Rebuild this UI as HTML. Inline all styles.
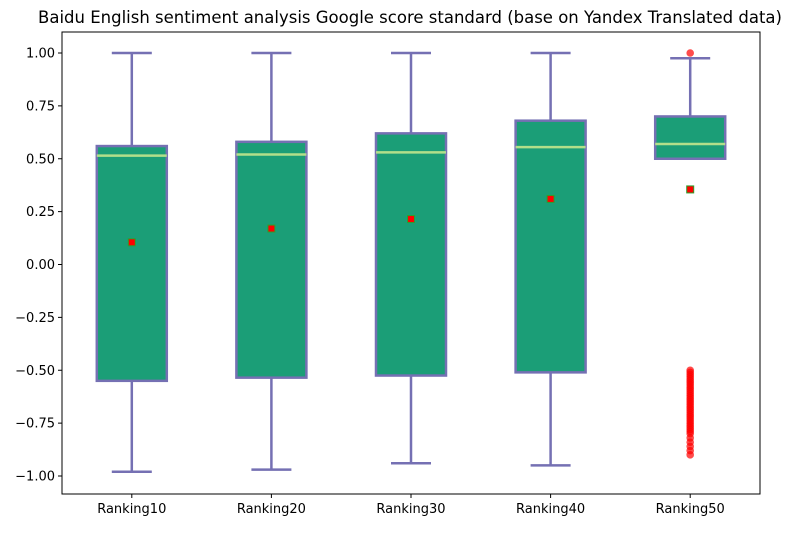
<!DOCTYPE html>
<html><head><meta charset="utf-8"><style>
body{margin:0;background:#fff;font-family:"Liberation Sans","DejaVu Sans",sans-serif}
svg text{font-family:"DejaVu Sans","Liberation Sans",sans-serif}
</style></head><body>
<svg id="c" width="797" height="528"></svg>
<script>
const categories=["Ranking10","Ranking20","Ranking30","Ranking40","Ranking50"];
const whiskerLow=[-0.98,-0.97,-0.94,-0.95,0.50];
const q1=[-0.55,-0.535,-0.525,-0.51,0.50];
const medians=[0.515,0.52,0.53,0.555,0.57];
const q3=[0.56,0.58,0.62,0.68,0.70];
const whiskerHigh=[1.0,1.0,1.0,1.0,0.975];
const means=[0.105,0.17,0.215,0.31,0.355];
const outliers50=[1.0,-0.50,-0.51,-0.52,-0.53,-0.54,-0.55,-0.56,-0.57,-0.58,-0.59,-0.60,-0.61,-0.62,-0.63,-0.64,-0.65,-0.66,-0.67,-0.68,-0.69,-0.70,-0.71,-0.72,-0.73,-0.74,-0.75,-0.76,-0.77,-0.78,-0.79,-0.80,-0.82,-0.84,-0.86,-0.88,-0.90];
const yTicks=[1.0,0.75,0.5,0.25,0,-0.25,-0.5,-0.75,-1.0];
const yTickLabels=["1.00","0.75","0.50","0.25","0.00","\u22120.25","\u22120.50","\u22120.75","\u22121.00"];

const L=62,R=760,T=32,B=494;
const x=i=>L+(i+0.5)*(R-L)/categories.length;
const y=v=>264.5-v*211.5;
const svg=document.getElementById('c');
const NS="http://www.w3.org/2000/svg";
function mk(tag,attrs,parent){const e=document.createElementNS(NS,tag);for(const k in attrs)e.setAttribute(k,attrs[k]);(parent||svg).appendChild(e);return e;}

let t=mk('text',{x:410,y:23,'text-anchor':'middle','font-size':16.5,fill:'#000'});
t.textContent="Baidu English sentiment analysis Google score standard (base on Yandex Translated data)";



const hw=35,cw=20,ec="#7570b3";
categories.forEach((c,i)=>{
  const g=mk('g',{});
  
  
  const cx=x(i);
  mk('line',{x1:cx,x2:cx,y1:y(q1[i]),y2:y(whiskerLow[i]),stroke:ec,'stroke-width':2.5},g);
  mk('line',{x1:cx,x2:cx,y1:y(q3[i]),y2:y(whiskerHigh[i]),stroke:ec,'stroke-width':2.5},g);
  mk('line',{x1:cx-cw,x2:cx+cw,y1:y(whiskerLow[i]),y2:y(whiskerLow[i]),stroke:ec,'stroke-width':2.5},g);
  mk('line',{x1:cx-cw,x2:cx+cw,y1:y(whiskerHigh[i]),y2:y(whiskerHigh[i]),stroke:ec,'stroke-width':2.5},g);
  mk('rect',{x:cx-hw,y:y(q3[i]),width:2*hw,height:y(q1[i])-y(q3[i]),fill:'#1b9e77',stroke:ec,'stroke-width':2.5},g);
  mk('line',{x1:cx-hw,x2:cx+hw,y1:y(medians[i]),y2:y(medians[i]),stroke:'#b2df8a','stroke-width':2.5},g);
  const m=mk('rect',{x:cx-3.5,y:y(means[i])-3.5,width:7,height:7,fill:'#f00',stroke:'#2ca02c','stroke-width':1},g);
  
  
});
outliers50.forEach(v=>{
  const o=mk('circle',{cx:x(4),cy:y(v),r:3.8,fill:'#f00','fill-opacity':0.7});
  
  
});

const ax=mk('rect',{x:L,y:T,width:R-L,height:B-T,fill:'none',stroke:'#000','stroke-width':1});


yTicks.forEach((v,i)=>{
  mk('line',{x1:L-4,x2:L,y1:y(v),y2:y(v),stroke:'#000'});
  const tt=mk('text',{x:L-7,y:y(v)+4.5,'text-anchor':'end','font-size':13,fill:'#000'});
  tt.textContent=yTickLabels[i];
  
  
});
categories.forEach((c,i)=>{
  mk('line',{x1:x(i),x2:x(i),y1:B,y2:B+4,stroke:'#000'});
  const tt=mk('text',{x:x(i),y:B+19,'text-anchor':'middle','font-size':13,fill:'#000'});
  tt.textContent=c;
  
  
});
</script>
</body></html>
